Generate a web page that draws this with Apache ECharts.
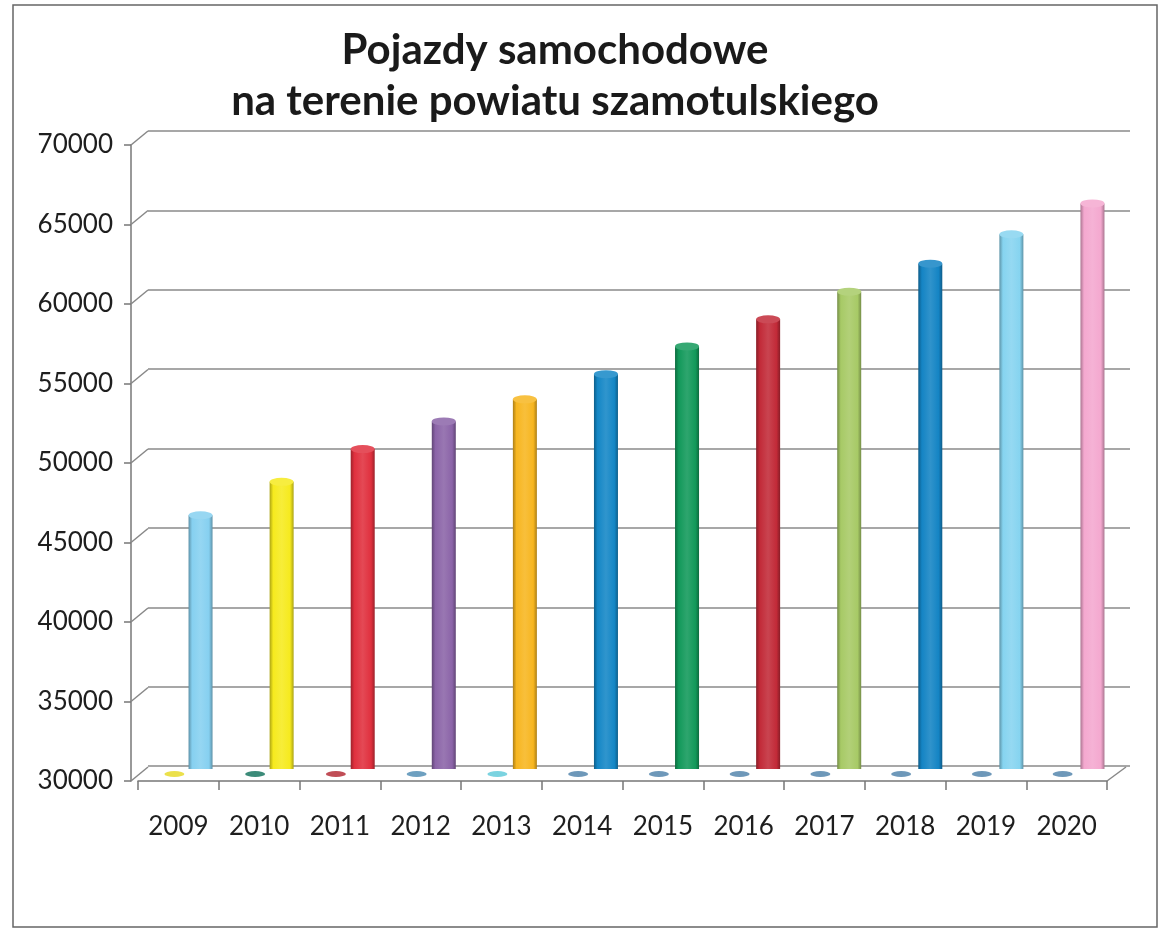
<!DOCTYPE html>
<html>
<head>
<meta charset="utf-8">
<title>Pojazdy samochodowe</title>
<script src="https://cdn.jsdelivr.net/npm/echarts@6/dist/echarts.min.js"></script>
<style>
  html, body { margin: 0; padding: 0; background: #fff; }
  #chart { width: 1162px; height: 930px; }
</style>
</head>
<body>
<div id="chart"></div>
<script>
// data
const years = ['2009', '2010', '2011', '2012', '2013', '2014', '2015', '2016', '2017', '2018', '2019', '2020'];
const vehicles = [45960, 48060, 50120, 51860, 53250, 54830, 56580, 58280, 60020, 61780, 63630, 65570];
// front row of tiny discs lying on the floor
const frontValues = [30000, 30000, 30000, 30000, 30000, 30000, 30000, 30000, 30000, 30000, 30000, 30000];
const yTicks = [30000, 35000, 40000, 45000, 50000, 55000, 60000, 65000, 70000];

const barColors = ['#86d0f0', '#f6ea1e', '#e0303e', '#8b64a8', '#f7b620', '#1487c6',
  '#12995a', '#c22a38', '#a7ca66', '#1484c4', '#86d4f0', '#f4a8cf'];
const discColors = ['#e6d81e', '#0b6e58', '#b0202c', '#4a88b0', '#5ac8d8', '#4a7ea8',
  '#4a7ea8', '#4a7ea8', '#4a7ea8', '#4a7ea8', '#4a7ea8', '#4a7ea8'];

const Y_MIN = 30000;
const Y_MAX = 70000;
const Y_STEP = 5000;
const FONT = 'Lato, "Open Sans", sans-serif';

function shade(hex, k) {
  // k < 0 darkens, k > 0 lightens
  const n = parseInt(hex.slice(1), 16);
  let rgb = [(n >> 16) & 255, (n >> 8) & 255, n & 255];
  rgb = rgb.map(c => Math.round(k < 0 ? c * (1 + k) : c + (255 - c) * k));
  return 'rgb(' + rgb.join(',') + ')';
}

function cylinder(c) {
  return new echarts.graphic.LinearGradient(0, 0, 1, 0, [
    { offset: 0, color: shade(c, -0.3) },
    { offset: 0.15, color: c },
    { offset: 0.5, color: shade(c, 0.12) },
    { offset: 0.85, color: c },
    { offset: 1, color: shade(c, -0.3) }
  ]);
}

const chart = echarts.init(document.getElementById('chart'));

const hiddenCat = { type: 'category', data: years, show: false };
const hiddenVal = { type: 'value', min: Y_MIN, max: Y_MAX, interval: Y_STEP, show: false };

const option = {
  backgroundColor: '#fff',
  animation: false,
  title: {
    text: 'Pojazdy samochodowe\nna terenie powiatu szamotulskiego',
    left: 550,
    top: 20,
    textAlign: 'center',
    textStyle: {
      fontFamily: FONT,
      fontSize: 42,
      fontWeight: 'bold',
      lineHeight: 51,
      color: '#1a1a1a'
    }
  },
  graphic: [
    {
      type: 'rect',
      shape: { x: 13, y: 5, width: 1144, height: 922 },
      style: { fill: 'none', stroke: '#666', lineWidth: 1.5 },
      silent: true
    }
  ],
  grid: [
    // front plane: axes and labels
    { left: 138, right: 55, top: 145, bottom: 149 },
    // back wall: gridlines
    { left: 148, right: 32, top: 131, bottom: 164 },
    // middle depth: cylinders
    { left: 160, right: 29, top: 133, bottom: 161 }
  ],
  xAxis: [
    {
      gridIndex: 0,
      type: 'category',
      data: years,
      axisLine: { show: true, lineStyle: { color: '#777', width: 1.5 } },
      axisTick: { show: true, length: 9, lineStyle: { color: '#777', width: 1.5 } },
      axisLabel: { margin: 33, fontFamily: FONT, fontSize: 26, color: '#1e1e1e' }
    },
    Object.assign({ gridIndex: 1 }, hiddenCat),
    Object.assign({ gridIndex: 2 }, hiddenCat)
  ],
  yAxis: [
    {
      gridIndex: 0,
      type: 'value',
      min: Y_MIN,
      max: Y_MAX,
      interval: Y_STEP,
      offset: 7,
      axisLine: { show: true, lineStyle: { color: '#777', width: 1.5 } },
      axisTick: { show: true, length: 7, lineStyle: { color: '#777', width: 1.5 } },
      axisLabel: {
        margin: 18,
        fontFamily: FONT,
        fontSize: 26,
        color: '#1e1e1e',
        formatter: v => String(v)
      },
      splitLine: { show: false }
    },
    {
      gridIndex: 1,
      type: 'value',
      min: Y_MIN,
      max: Y_MAX,
      interval: Y_STEP,
      axisLine: { show: false },
      axisTick: { show: false },
      axisLabel: { show: false },
      splitLine: { show: true, lineStyle: { color: '#8a8a8a', width: 1.5 } }
    },
    Object.assign({ gridIndex: 2 }, hiddenVal)
  ],
  series: [
    {
      // diagonal connectors between the front axis and the back wall
      type: 'custom',
      xAxisIndex: 0,
      yAxisIndex: 0,
      silent: true,
      clip: false,
      data: yTicks.map(v => [0, v]),
      renderItem: function (params, api) {
        const cs = params.coordSys;
        const y = api.coord([0, api.value(1)])[1];
        const style = { stroke: '#888', lineWidth: 1.5 };
        const children = [{
          type: 'line',
          shape: { x1: cs.x - 7, y1: y, x2: cs.x + 10, y2: y - 14 },
          style: style
        }];
        if (api.value(1) === Y_MIN) {
          children.push({
            type: 'line',
            shape: { x1: cs.x + cs.width, y1: y, x2: cs.x + cs.width + 19, y2: y - 14 },
            style: style
          });
        }
        return { type: 'group', children: children };
      },
      z: 1
    },
    {
      type: 'scatter',
      xAxisIndex: 0,
      yAxisIndex: 0,
      symbol: 'circle',
      symbolSize: [20, 6],
      symbolOffset: [-4, -7],
      silent: true,
      data: frontValues.map((v, i) => ({ value: v, itemStyle: { color: discColors[i] } })),
      z: 3
    },
    {
      name: 'Pojazdy',
      type: 'bar',
      xAxisIndex: 2,
      yAxisIndex: 2,
      barWidth: 24,
      data: vehicles.map((v, i) => ({ value: v, itemStyle: { color: cylinder(barColors[i]) } })),
      z: 4
    },
    {
      type: 'pictorialBar',
      xAxisIndex: 2,
      yAxisIndex: 2,
      symbol: 'circle',
      symbolSize: [24, 8],
      symbolPosition: 'start',
      symbolOffset: [0, '50%'],
      data: vehicles.map((v, i) => ({ value: v, itemStyle: { color: shade(barColors[i], -0.15) } })),
      z: 3
    },
    {
      type: 'pictorialBar',
      xAxisIndex: 2,
      yAxisIndex: 2,
      symbol: 'circle',
      symbolSize: [24, 8],
      symbolPosition: 'end',
      symbolOffset: [0, '-50%'],
      data: vehicles.map((v, i) => ({ value: v, itemStyle: { color: shade(barColors[i], 0.15) } })),
      z: 5
    }
  ]
};

chart.setOption(option);
window.onresize = () => {
  chart.resize();
};
</script>
</body>
</html>
